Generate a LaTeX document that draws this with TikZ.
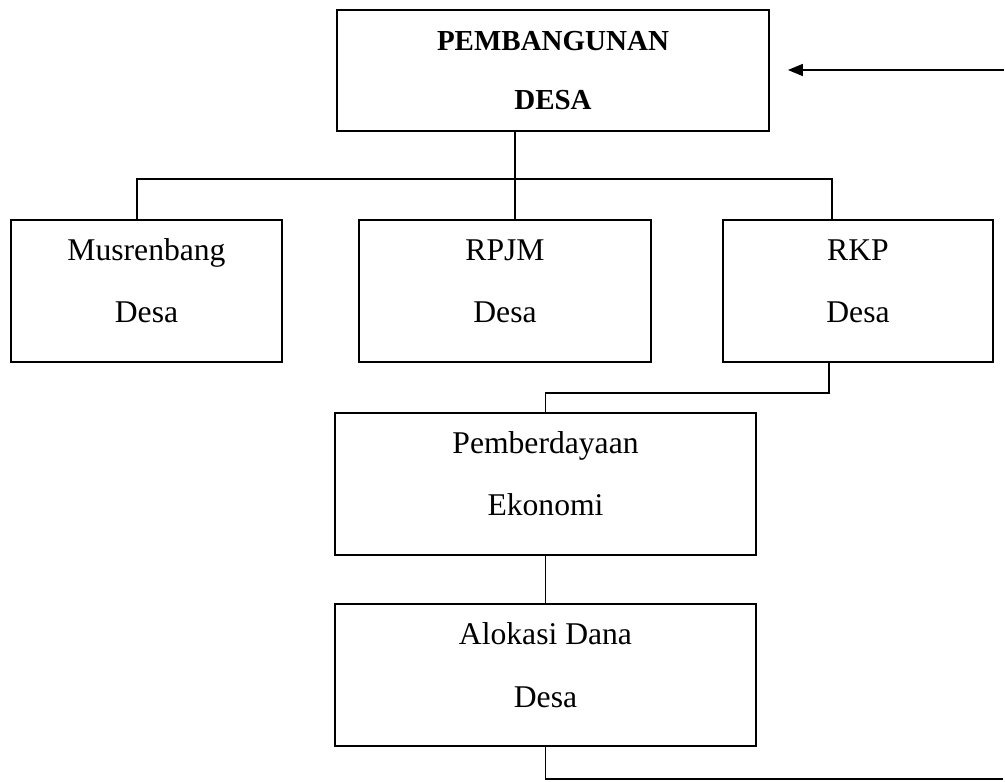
\documentclass[tikz,border=0pt]{standalone}
\usepackage{fontspec}
\setmainfont{Liberation Serif}
\usetikzlibrary{arrows.meta, positioning}

\begin{document}
\begin{tikzpicture}[
	box/.style={
		draw,
		line width=1pt,
		text centered,
		minimum height=2.84cm,
		font=\fontsize{18}{35.3}\selectfont,
		align=center,
		anchor=center,
		execute at end node={\rule[-0.4cm]{0pt}{0pt}},
	}, headbox/.style={
		draw,
		line width=1pt,
		minimum width=8.64cm,
		minimum height=2.42cm,
		font=\fontsize{16.5}{33.5}\selectfont\bfseries,
		align=center,
		anchor=center,
	}, link/.style={
		line width=0.8pt,
	},
	]

\useasboundingbox (0,0) rectangle (20.1,-15.62);

% ------ Boxes ------- %
\draw
(11.06,-1.41) node[headbox](pembangunan){PEMBANGUNAN \\ DESA}
(2.93,-5.82) node[box, minimum width=5.42cm](musrenbang){Musrenbang \\ Desa}
(10.10,-5.82) node[box, minimum width=5.84cm](rpjm){RPJM \\ Desa}
(17.16,-5.82) node[box, minimum width=5.40cm](rkp){RKP \\ Desa}
(10.91,-9.68) node[box, minimum width=8.42cm](pemberdayaan){Pemberdayaan \\ Ekonomi}
(10.91,-13.50) node[box, minimum width=8.42cm](alokasi){Alokasi Dana \\ Desa}
;

\coordinate (bus) at (10.30,-3.58);
\coordinate (feedback_in) at (20.08,-1.40);
\coordinate (feedback_out) at (20.06,-15.58);

% ------ Connectors ------- %
\draw [link] ([xshift=-0.76cm]pembangunan.south) -- ([xshift=0.2cm]rpjm.north);
\draw [link] ([xshift=-0.19cm]musrenbang.north) |- (bus) -| ([xshift=-0.52cm]rkp.north);
\draw [link] ([xshift=-0.58cm]rkp.south) -- ++(0,-0.6) -| (pemberdayaan.north);
\draw [link] (pemberdayaan.south) -- (alokasi.north);
\draw [link] (alokasi.south) |- (feedback_out);
\draw [link, -{Triangle[length=0.3cm, width=0.24cm]}, shorten >=0.36cm] (feedback_in) -- (pembangunan.east |- feedback_in);

\end{tikzpicture}
\end{document}
